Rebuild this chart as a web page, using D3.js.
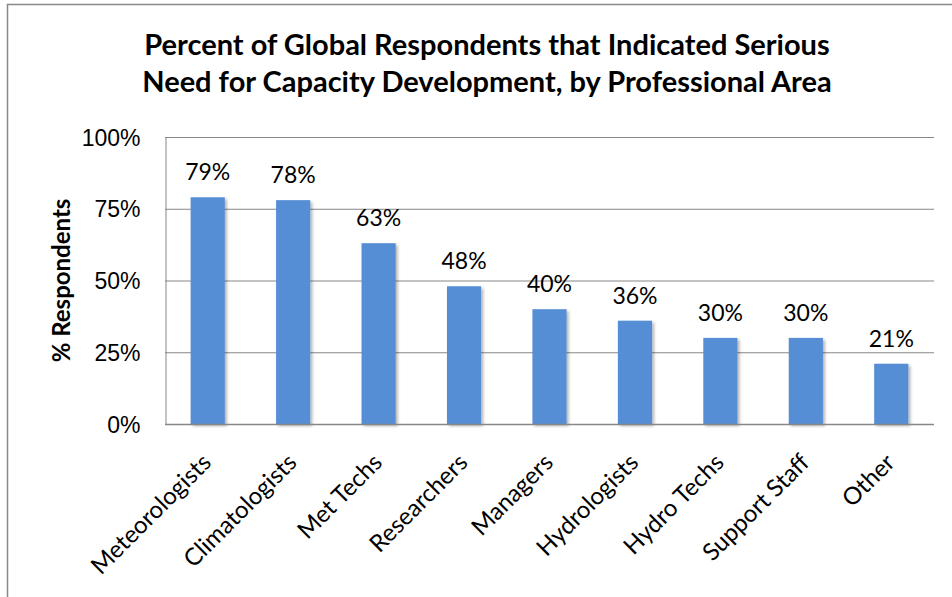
<!DOCTYPE html>
<html>
<head>
<meta charset="utf-8">
<script src="https://cdn.jsdelivr.net/npm/d3@7"></script>
<style>
  html, body { margin: 0; padding: 0; background: #fff; }
  svg { display: block; font-family: Lato, "Open Sans", sans-serif; }
</style>
</head>
<body>
<svg id="chart" width="952" height="597"></svg>
<script>
// Professional areas and share of respondents reporting serious need
const categories = ["Meteorologists", "Climatologists", "Met Techs", "Researchers", "Managers",
                    "Hydrologists", "Hydro Techs", "Support Staff", "Other"];
const values = [79, 78, 63, 48, 40, 36, 30, 30, 21];
const yTicks = [0, 25, 50, 75, 100];
const titleLines = ["Percent of Global Respondents that Indicated Serious",
                    "Need for Capacity Development, by Professional Area"];
const yTitle = "% Respondents";

const svg = d3.select("#chart");
const margin = { left: 165, right: 18, top: 137, bottom: 173 };
const W = 952, H = 597;

// soft drop shadow under the bars
const defs = svg.append("defs");
const f = defs.append("filter").attr("id", "shadow")
  .attr("x", "-20%").attr("y", "-20%").attr("width", "150%").attr("height", "150%");
f.append("feDropShadow").attr("dx", 2).attr("dy", 2).attr("stdDeviation", 1.5)
  .attr("flood-color", "#000").attr("flood-opacity", 0.3);

// chart frame (runs off the right and bottom edges of the canvas)
svg.append("rect").attr("x", 7.5).attr("y", 4.5).attr("width", 960).attr("height", 620)
  .attr("fill", "none").attr("stroke", "#888").attr("stroke-width", 1.5);

const x = d3.scaleBand().domain(categories)
  .range([margin.left, W - margin.right]).paddingInner(0.6).paddingOuter(0.3);
const y = d3.scaleLinear().domain([0, 100]).range([H - margin.bottom, margin.top]);

// gridlines
svg.append("g").selectAll("line").data(yTicks.filter(d => d > 0)).join("line")
  .attr("x1", margin.left).attr("x2", W - margin.right)
  .attr("y1", d => y(d) + 0.5).attr("y2", d => y(d) + 0.5)
  .attr("stroke", "#878787").attr("stroke-width", 1);

// y axis
const yAxis = svg.append("g").attr("transform", `translate(${margin.left + 0.5},0)`)
  .call(d3.axisLeft(y).tickValues(yTicks).tickFormat(d => d + "%").tickSize(0).tickPadding(25));
yAxis.select(".domain").attr("stroke", "#878787");
yAxis.selectAll("text").attr("font-size", 23).attr("fill", "#000").attr("dy", "0.35em");

// bars
svg.append("g").selectAll("rect").data(values).join("rect")
  .attr("x", (d, i) => x(categories[i]))
  .attr("y", d => y(d))
  .attr("width", x.bandwidth())
  .attr("height", d => y(0) - y(d))
  .attr("fill", "#558ed5")
  .attr("filter", "url(#shadow)");

// x axis line
svg.append("line").attr("x1", margin.left).attr("x2", W - margin.right)
  .attr("y1", y(0) + 0.5).attr("y2", y(0) + 0.5)
  .attr("stroke", "#878787").attr("stroke-width", 1.5);

// value labels
svg.append("g").selectAll("text").data(values).join("text")
  .attr("x", (d, i) => x(categories[i]) + x.bandwidth() / 2)
  .attr("y", d => y(d) - 17)
  .attr("text-anchor", "middle").attr("font-size", 23).attr("fill", "#000")
  .text(d => d + "%");

// rotated category labels
svg.append("g").selectAll("text").data(categories).join("text")
  .attr("transform", d => `translate(${x(d) + x.bandwidth() / 2 + 5},${y(0) + 40}) rotate(-45)`)
  .attr("text-anchor", "end").attr("font-size", 24).attr("fill", "#000")
  .text(d => d);

// y axis title
svg.append("text")
  .attr("transform", `translate(70,${(y(0) + y(100)) / 2}) rotate(-90)`)
  .attr("text-anchor", "middle").attr("font-size", 24).attr("font-weight", "bold")
  .text(yTitle);

// chart title
svg.append("g").selectAll("text").data(titleLines).join("text")
  .attr("x", 487).attr("y", (d, i) => 55 + i * 37)
  .attr("text-anchor", "middle").attr("font-size", 29).attr("font-weight", "bold")
  .text(d => d);
</script>
</body>
</html>
